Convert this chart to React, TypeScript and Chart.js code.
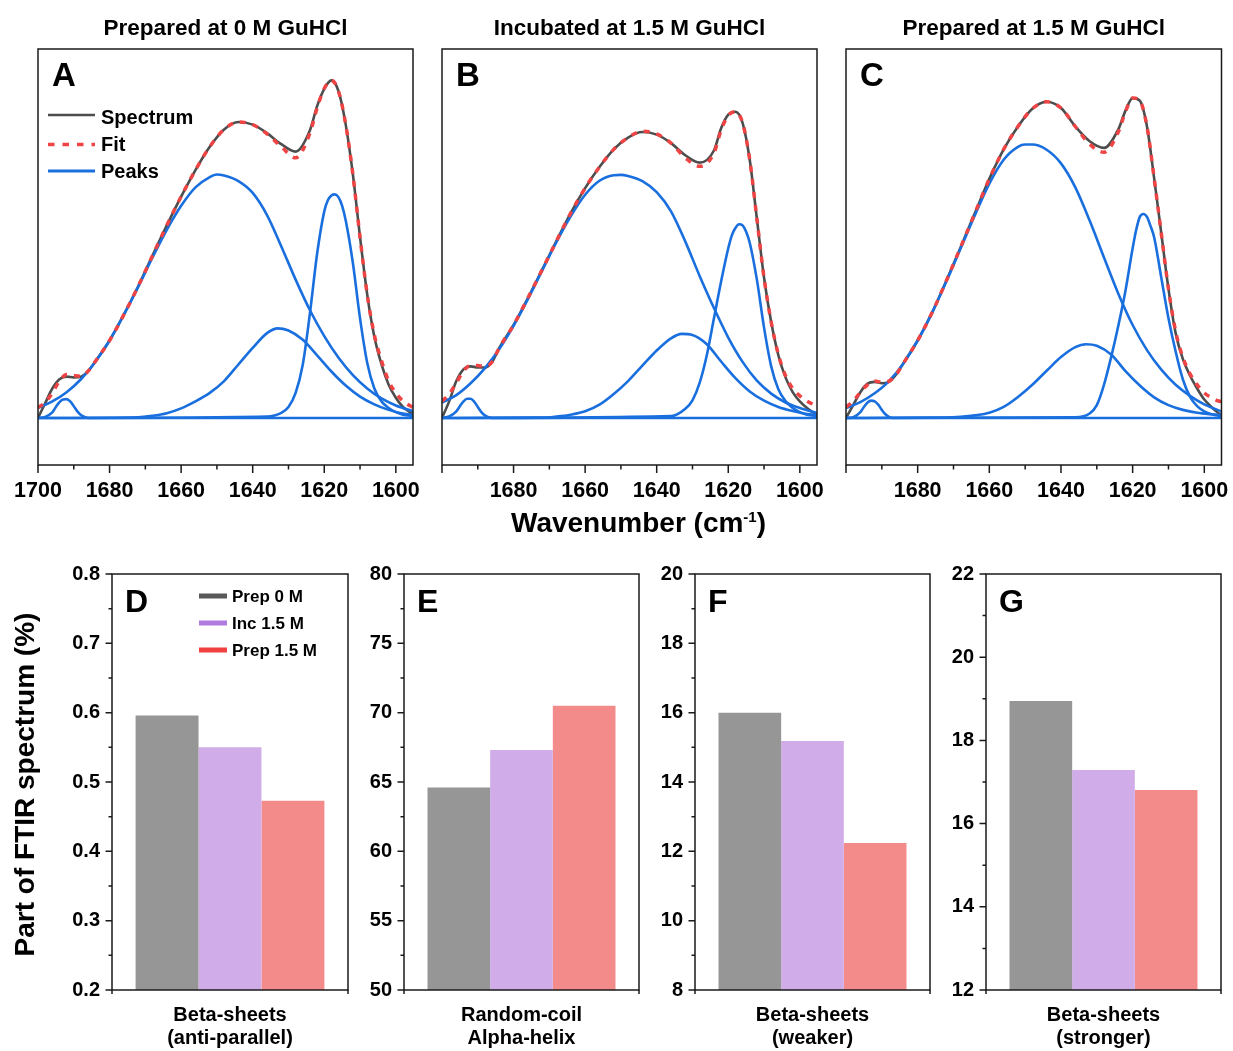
import React, { useEffect, useRef } from 'react';
import { Chart, registerables } from 'chart.js';

Chart.register(...registerables);

const FONT = "'Liberation Sans', Arial, Helvetica, sans-serif";

// ---------------- Top panels (FTIR spectra) ----------------
const TOP_TITLES = ['Prepared at 0 M GuHCl', 'Incubated at 1.5 M GuHCl', 'Prepared at 1.5 M GuHCl'];
const TOP_LETTERS = ['A', 'B', 'C'];
const LEGEND_TOP = ['Spectrum', 'Fit', 'Peaks'];
const X_TICKS = [1700, 1680, 1660, 1640, 1620, 1600];
const X_MINOR = [1690, 1670, 1650, 1630, 1610];

const SPEC_X = [1700, 1698, 1696, 1694, 1692, 1690, 1688, 1686, 1684, 1680, 1676, 1672, 1668, 1664, 1660, 1656, 1652, 1648, 1644, 1640, 1636, 1632, 1628, 1624, 1622, 1620, 1618, 1616, 1614, 1612, 1610, 1608, 1606, 1604, 1602, 1600, 1598, 1596, 1595];
const SPEC_A = [0, 0.04, 0.08, 0.105, 0.112, 0.11, 0.112, 0.127, 0.153, 0.21, 0.28, 0.357, 0.44, 0.522, 0.6, 0.672, 0.735, 0.782, 0.802, 0.795, 0.772, 0.742, 0.722, 0.78, 0.845, 0.892, 0.915, 0.885, 0.795, 0.66, 0.49, 0.335, 0.22, 0.145, 0.09, 0.055, 0.03, 0.015, 0.01];
const FIT_A = [0.028, 0.042, 0.068, 0.1, 0.118, 0.115, 0.113, 0.127, 0.153, 0.21, 0.28, 0.357, 0.44, 0.522, 0.6, 0.672, 0.735, 0.782, 0.802, 0.795, 0.77, 0.735, 0.705, 0.772, 0.84, 0.893, 0.915, 0.885, 0.795, 0.66, 0.49, 0.335, 0.225, 0.155, 0.1, 0.068, 0.046, 0.033, 0.028];
const SPEC_B = [0, 0.045, 0.1, 0.132, 0.14, 0.137, 0.137, 0.152, 0.19, 0.252, 0.325, 0.402, 0.48, 0.556, 0.623, 0.68, 0.728, 0.76, 0.775, 0.768, 0.745, 0.712, 0.692, 0.725, 0.785, 0.822, 0.83, 0.8, 0.7, 0.54, 0.38, 0.26, 0.17, 0.11, 0.07, 0.045, 0.027, 0.013, 0.008];
const FIT_B = [0.045, 0.065, 0.095, 0.127, 0.143, 0.142, 0.14, 0.152, 0.19, 0.252, 0.325, 0.402, 0.48, 0.556, 0.623, 0.68, 0.728, 0.76, 0.777, 0.77, 0.745, 0.705, 0.682, 0.718, 0.78, 0.82, 0.83, 0.8, 0.7, 0.54, 0.38, 0.26, 0.172, 0.115, 0.08, 0.06, 0.046, 0.036, 0.032];
const SPEC_C = [0, 0.035, 0.07, 0.093, 0.098, 0.094, 0.098, 0.118, 0.148, 0.21, 0.285, 0.372, 0.463, 0.556, 0.648, 0.728, 0.79, 0.838, 0.857, 0.84, 0.79, 0.75, 0.732, 0.782, 0.833, 0.867, 0.86, 0.79, 0.65, 0.5, 0.35, 0.23, 0.16, 0.115, 0.08, 0.05, 0.03, 0.013, 0.008];
const FIT_C = [0.03, 0.045, 0.07, 0.09, 0.1, 0.097, 0.1, 0.118, 0.148, 0.21, 0.285, 0.372, 0.463, 0.556, 0.648, 0.728, 0.79, 0.838, 0.857, 0.84, 0.79, 0.742, 0.72, 0.775, 0.83, 0.867, 0.86, 0.79, 0.65, 0.5, 0.35, 0.235, 0.165, 0.12, 0.09, 0.068, 0.055, 0.046, 0.044];

const SMALL_X = [1700, 1698, 1696, 1695, 1694, 1693, 1692, 1691, 1690, 1689, 1688, 1687, 1686, 1595];
const SMALL_A = [0, 0.003, 0.015, 0.03, 0.043, 0.05, 0.051, 0.045, 0.032, 0.018, 0.008, 0.003, 0, 0];
const SMALL_B = [0, 0.004, 0.018, 0.032, 0.045, 0.052, 0.052, 0.044, 0.03, 0.016, 0.007, 0.002, 0, 0];
const SMALL_C = [0, 0.002, 0.016, 0.03, 0.042, 0.047, 0.045, 0.036, 0.022, 0.01, 0.003, 0, 0, 0];

const BROAD_X = [1700, 1696, 1692, 1688, 1684, 1680, 1676, 1672, 1668, 1664, 1660, 1656, 1652, 1650, 1648, 1644, 1640, 1636, 1632, 1628, 1624, 1620, 1616, 1612, 1608, 1604, 1600, 1595];
const BROAD_A = [0.027, 0.045, 0.07, 0.105, 0.152, 0.21, 0.28, 0.355, 0.435, 0.51, 0.575, 0.625, 0.653, 0.66, 0.657, 0.642, 0.61, 0.55, 0.465, 0.375, 0.292, 0.222, 0.163, 0.116, 0.08, 0.053, 0.034, 0.018];
const BROAD_B = [0.042, 0.062, 0.094, 0.135, 0.187, 0.25, 0.322, 0.4, 0.477, 0.547, 0.605, 0.643, 0.658, 0.659, 0.656, 0.642, 0.612, 0.56, 0.478, 0.385, 0.298, 0.218, 0.152, 0.101, 0.066, 0.042, 0.027, 0.013];
const BROAD_C = [0.027, 0.043, 0.067, 0.1, 0.148, 0.21, 0.285, 0.37, 0.46, 0.55, 0.635, 0.7, 0.735, 0.741, 0.741, 0.727, 0.69, 0.625, 0.535, 0.435, 0.337, 0.252, 0.184, 0.131, 0.09, 0.06, 0.037, 0.017];

const MED_X = [1700, 1672, 1668, 1664, 1660, 1656, 1652, 1648, 1644, 1640, 1636, 1633, 1630, 1626, 1622, 1618, 1614, 1610, 1606, 1602, 1598, 1595];
const MED_A = [0, 0.002, 0.006, 0.013, 0.026, 0.045, 0.068, 0.1, 0.145, 0.19, 0.23, 0.243, 0.237, 0.212, 0.17, 0.126, 0.088, 0.058, 0.037, 0.022, 0.012, 0.008];
const MED_B = [0, 0.001, 0.004, 0.009, 0.018, 0.036, 0.065, 0.1, 0.142, 0.183, 0.216, 0.228, 0.225, 0.2, 0.153, 0.108, 0.072, 0.047, 0.03, 0.019, 0.011, 0.008];
const MED_C = [0, 0.001, 0.003, 0.007, 0.014, 0.03, 0.057, 0.09, 0.128, 0.165, 0.192, 0.2, 0.196, 0.172, 0.127, 0.088, 0.056, 0.035, 0.022, 0.014, 0.01, 0.008];

const SHARP_X = [1700, 1636, 1632, 1630, 1628, 1626, 1624, 1622, 1620, 1619, 1618, 1617, 1616, 1615, 1614, 1612, 1610, 1608, 1606, 1604, 1602, 1600, 1598, 1595];
const SHARP_A = [0, 0.004, 0.014, 0.03, 0.068, 0.145, 0.284, 0.445, 0.56, 0.59, 0.603, 0.606, 0.598, 0.575, 0.535, 0.42, 0.27, 0.15, 0.08, 0.045, 0.027, 0.016, 0.009, 0.005];
const SHARP_B = [0, 0.005, 0.025, 0.048, 0.095, 0.17, 0.27, 0.37, 0.46, 0.495, 0.515, 0.525, 0.522, 0.505, 0.475, 0.375, 0.245, 0.14, 0.078, 0.046, 0.027, 0.016, 0.009, 0.005];
const SHARP_C = [0, 0.002, 0.012, 0.035, 0.09, 0.165, 0.25, 0.345, 0.46, 0.51, 0.545, 0.553, 0.545, 0.52, 0.49, 0.38, 0.27, 0.18, 0.105, 0.058, 0.032, 0.018, 0.01, 0.005];

const SPECTRA = [SPEC_A, SPEC_B, SPEC_C];
const FITS = [FIT_A, FIT_B, FIT_C];
const SMALLS = [SMALL_A, SMALL_B, SMALL_C];
const BROADS = [BROAD_A, BROAD_B, BROAD_C];
const MEDS = [MED_A, MED_B, MED_C];
const SHARPS = [SHARP_A, SHARP_B, SHARP_C];

const SPEC_COLOR = '#4d4d4d';
const FIT_COLOR = '#f04343';
const PEAK_COLOR = '#1a6fdf';

// ---------------- Bottom panels (bar charts) ----------------
const BAR_LETTERS = ['D', 'E', 'F', 'G'];
const BAR_CATEGORIES = [
  ['Beta-sheets', '(anti-parallel)'],
  ['Random-coil', 'Alpha-helix'],
  ['Beta-sheets', '(weaker)'],
  ['Beta-sheets', '(stronger)'],
];
const SERIES_NAMES = ['Prep 0 M', 'Inc 1.5 M', 'Prep 1.5 M'];
const PREP_0M = [0.596, 64.6, 16.0, 18.95];
const INC_15M = [0.55, 67.3, 15.18, 17.29];
const PREP_15M = [0.473, 70.5, 12.24, 16.81];
const BAR_Y_MIN = [0.2, 50, 8, 12];
const BAR_Y_MAX = [0.8, 80, 20, 22];
const BAR_Y_STEP = [0.1, 5, 2, 2];
const BAR_DECIMALS = [1, 0, 0, 0];
const BAR_FILLS = ['#969696', '#d0ade9', '#f48b8b'];
const LEGEND_SWATCHES = ['#595959', '#b07be0', '#f04040'];
const BAR_SERIES = [PREP_0M, INC_15M, PREP_15M];

// ---------------- Layout ----------------
type Rect = { left: number; top: number; width: number; height: number };
const TOP_RECTS: Rect[] = [
  { left: 0, top: 0, width: 428, height: 550 },
  { left: 428, top: 0, width: 404, height: 550 },
  { left: 832, top: 0, width: 401, height: 550 },
];
const TOP_PADS = [
  { left: 38, top: 49, right: 15, bottom: 40 },
  { left: 14, top: 49, right: 15, bottom: 40 },
  { left: 14, top: 49, right: 11.5, bottom: 40 },
];
const BAR_RECTS: Rect[] = [
  { left: 0, top: 560, width: 360, height: 491 },
  { left: 360, top: 560, width: 290, height: 491 },
  { left: 650, top: 560, width: 290, height: 491 },
  { left: 940, top: 560, width: 293, height: 491 },
];
const BAR_YAXIS_W = [60, 40, 40, 40];
const BAR_PADS = [
  { left: 52, top: 14, right: 12, bottom: 0 },
  { left: 4, top: 14, right: 11, bottom: 0 },
  { left: 5, top: 14, right: 10, bottom: 0 },
  { left: 6, top: 14, right: 12, bottom: 0 },
];

function pts(xs: number[], ys: number[]) {
  return xs.map((x, i) => ({ x, y: ys[i] }));
}

function lineDs(label: string, data: any[], color: string, width: number, dash: number[], order: number) {
  return {
    type: 'line',
    label,
    data,
    borderColor: color,
    borderWidth: width,
    borderDash: dash,
    pointRadius: 0,
    fill: false,
    cubicInterpolationMode: 'monotone',
    order,
  };
}

function topDecor(idx: number) {
  return {
    id: 'topDecor' + idx,
    afterDraw(chart: any) {
      const { ctx, chartArea: a, scales } = chart;
      const x = scales.x;
      ctx.save();
      ctx.strokeStyle = '#1a1a1a';
      ctx.lineWidth = 1.5;
      ctx.setLineDash([]);
      ctx.strokeRect(a.left, a.top, a.right - a.left, a.bottom - a.top);
      ctx.beginPath();
      for (const v of X_TICKS) {
        const p = x.getPixelForValue(v);
        ctx.moveTo(p, a.bottom);
        ctx.lineTo(p, a.bottom + 8);
      }
      for (const v of X_MINOR) {
        const p = x.getPixelForValue(v);
        ctx.moveTo(p, a.bottom);
        ctx.lineTo(p, a.bottom + 4.5);
      }
      ctx.stroke();

      ctx.fillStyle = '#000';
      ctx.textAlign = 'left';
      ctx.textBaseline = 'alphabetic';
      ctx.font = `bold 33px ${FONT}`;
      ctx.fillText(TOP_LETTERS[idx], a.left + 14, a.top + 37);

      ctx.textAlign = 'center';
      ctx.font = `bold 22.5px ${FONT}`;
      ctx.fillText(TOP_TITLES[idx], (a.left + a.right) / 2, 34.5);

      if (idx === 0) {
        const rows = [
          { y: 115, ty: 118.5, color: SPEC_COLOR, w: 2.6, dash: [] as number[] },
          { y: 144.5, ty: 145.5, color: FIT_COLOR, w: 3.5, dash: [6.5, 8] },
          { y: 171, ty: 172, color: PEAK_COLOR, w: 3, dash: [] as number[] },
        ];
        rows.forEach((r, i) => {
          ctx.beginPath();
          ctx.strokeStyle = r.color;
          ctx.lineWidth = r.w;
          ctx.setLineDash(r.dash);
          ctx.moveTo(48, r.y);
          ctx.lineTo(95, r.y);
          ctx.stroke();
          ctx.setLineDash([]);
          ctx.fillStyle = '#000';
          ctx.textAlign = 'left';
          ctx.textBaseline = 'middle';
          ctx.font = `bold 20px ${FONT}`;
          ctx.fillText(LEGEND_TOP[i], 101, r.ty);
        });
      }

      if (idx === 1) {
        const main1 = 'Wavenumber (cm';
        const sup = '-1';
        const main2 = ')';
        ctx.textBaseline = 'alphabetic';
        ctx.textAlign = 'left';
        ctx.font = `bold 28px ${FONT}`;
        const w1 = ctx.measureText(main1).width;
        const w3 = ctx.measureText(main2).width;
        ctx.font = `bold 15px ${FONT}`;
        const w2 = ctx.measureText(sup).width;
        const pageCx = 638.5 - TOP_RECTS[1].left;
        const start = pageCx - (w1 + w2 + w3) / 2;
        ctx.fillStyle = '#000';
        ctx.font = `bold 28px ${FONT}`;
        ctx.fillText(main1, start, 532);
        ctx.font = `bold 15px ${FONT}`;
        ctx.fillText(sup, start + w1, 522);
        ctx.font = `bold 28px ${FONT}`;
        ctx.fillText(main2, start + w1 + w2, 532);
      }
      ctx.restore();
    },
  };
}

function makeTopConfig(idx: number) {
  const datasets = [
    lineDs('Fit', pts(SPEC_X, FITS[idx]), FIT_COLOR, 3.5, [6, 7], 0),
    lineDs('Peak 1', pts(SMALL_X, SMALLS[idx]), PEAK_COLOR, 2.6, [], 1),
    lineDs('Peak 2', pts(BROAD_X, BROADS[idx]), PEAK_COLOR, 2.6, [], 1),
    lineDs('Peak 3', pts(MED_X, MEDS[idx]), PEAK_COLOR, 2.6, [], 1),
    lineDs('Peak 4', pts(SHARP_X, SHARPS[idx]), PEAK_COLOR, 2.6, [], 1),
    lineDs('Spectrum', pts(SPEC_X, SPECTRA[idx]), SPEC_COLOR, 2.6, [], 2),
  ];
  return {
    type: 'line',
    data: { datasets },
    options: {
      responsive: false,
      maintainAspectRatio: false,
      animation: false,
      devicePixelRatio: 1,
      events: [],
      layout: { padding: TOP_PADS[idx] },
      plugins: { legend: { display: false }, tooltip: { enabled: false }, title: { display: false } },
      scales: {
        x: {
          type: 'linear',
          min: 1595.2,
          max: 1700,
          reverse: true,
          afterBuildTicks: (s: any) => {
            s.ticks = X_TICKS.map((v) => ({ value: v }));
          },
          afterFit: (s: any) => {
            s.height = 45;
            s.paddingLeft = 0;
            s.paddingRight = 0;
          },
          grid: { display: false, drawTicks: false },
          border: { display: false },
          ticks: {
            autoSkip: false,
            maxRotation: 0,
            minRotation: 0,
            padding: 13,
            color: '#000',
            font: { family: FONT, size: 21.5, weight: 'bold' },
            callback: (v: any) => (idx > 0 && Number(v) === 1700 ? '' : String(v)),
          },
        },
        y: { display: false, min: -0.1274, max: 1.0 },
      },
    },
    plugins: [topDecor(idx)],
  };
}

function barDecor(idx: number) {
  return {
    id: 'barDecor' + idx,
    afterDraw(chart: any) {
      const { ctx, chartArea: a, scales } = chart;
      const y = scales.y;
      ctx.save();
      ctx.strokeStyle = '#1a1a1a';
      ctx.lineWidth = 1.5;
      ctx.strokeRect(a.left, a.top, a.right - a.left, a.bottom - a.top);
      ctx.beginPath();
      const n = Math.round((BAR_Y_MAX[idx] - BAR_Y_MIN[idx]) / (BAR_Y_STEP[idx] / 2));
      for (let k = 0; k <= n; k++) {
        const v = BAR_Y_MIN[idx] + (k * BAR_Y_STEP[idx]) / 2;
        const p = y.getPixelForValue(v);
        ctx.moveTo(a.left, p);
        ctx.lineTo(a.left - (k % 2 === 0 ? 6.5 : 3.5), p);
      }
      ctx.moveTo(a.left, a.bottom);
      ctx.lineTo(a.left, a.bottom + 4);
      ctx.moveTo(a.right, a.bottom);
      ctx.lineTo(a.right, a.bottom + 4);
      ctx.stroke();

      ctx.fillStyle = '#000';
      ctx.textAlign = 'left';
      ctx.textBaseline = 'alphabetic';
      ctx.font = `bold 32px ${FONT}`;
      ctx.fillText(BAR_LETTERS[idx], a.left + 13, a.top + 38);

      if (idx === 0) {
        const top = BAR_RECTS[0].top;
        const rows = [596, 623, 650];
        rows.forEach((ry, i) => {
          ctx.fillStyle = LEGEND_SWATCHES[i];
          ctx.fillRect(199, ry - 2.5 - top, 28, 5);
          ctx.fillStyle = '#000';
          ctx.textBaseline = 'middle';
          ctx.font = `bold 17px ${FONT}`;
          ctx.fillText(SERIES_NAMES[i], 232, ry + 1 - top);
        });
        ctx.save();
        ctx.translate(33.5, 784.5 - top);
        ctx.rotate(-Math.PI / 2);
        ctx.textAlign = 'center';
        ctx.textBaseline = 'alphabetic';
        ctx.font = `bold 28px ${FONT}`;
        ctx.fillStyle = '#000';
        ctx.fillText('Part of FTIR spectrum (%)', 0, 0);
        ctx.restore();
      }
      ctx.restore();
    },
  };
}

function makeBarConfig(idx: number) {
  const majors: number[] = [];
  const nMaj = Math.round((BAR_Y_MAX[idx] - BAR_Y_MIN[idx]) / BAR_Y_STEP[idx]);
  for (let k = 0; k <= nMaj; k++) majors.push(BAR_Y_MIN[idx] + k * BAR_Y_STEP[idx]);
  return {
    type: 'bar',
    data: {
      labels: [BAR_CATEGORIES[idx]],
      datasets: SERIES_NAMES.map((name, k) => ({
        label: name,
        data: [BAR_SERIES[k][idx]],
        backgroundColor: BAR_FILLS[k],
        borderWidth: 0,
        barPercentage: 1,
        categoryPercentage: 0.8,
      })),
    },
    options: {
      responsive: false,
      maintainAspectRatio: false,
      animation: false,
      devicePixelRatio: 1,
      events: [],
      layout: { padding: BAR_PADS[idx] },
      plugins: { legend: { display: false }, tooltip: { enabled: false }, title: { display: false } },
      scales: {
        x: {
          type: 'category',
          grid: { display: false, drawTicks: false },
          border: { display: false },
          afterFit: (s: any) => {
            s.height = 61;
            s.paddingLeft = 0;
            s.paddingRight = 0;
          },
          ticks: {
            autoSkip: false,
            maxRotation: 0,
            minRotation: 0,
            padding: 13.5,
            color: '#000',
            font: { family: FONT, size: 20, weight: 'bold', lineHeight: 1.15 },
          },
        },
        y: {
          type: 'linear',
          min: BAR_Y_MIN[idx],
          max: BAR_Y_MAX[idx],
          afterBuildTicks: (s: any) => {
            s.ticks = majors.map((v) => ({ value: v }));
          },
          afterFit: (s: any) => {
            s.width = BAR_YAXIS_W[idx];
            s.paddingTop = 0;
            s.paddingBottom = 0;
          },
          grid: { display: false, drawTicks: false },
          border: { display: false },
          ticks: {
            padding: 12,
            color: '#000',
            font: { family: FONT, size: 20, weight: 'bold' },
            callback: (v: any) => Number(v).toFixed(BAR_DECIMALS[idx]),
          },
        },
      },
    },
    plugins: [barDecor(idx)],
  };
}

function ChartCanvas({ rect, make }: { rect: Rect; make: () => any }) {
  const ref = useRef<HTMLCanvasElement | null>(null);
  useEffect(() => {
    if (!ref.current) return;
    const chart = new Chart(ref.current, make());
    return () => chart.destroy();
  }, []);
  return (
    <canvas
      ref={ref}
      width={rect.width}
      height={rect.height}
      style={{ position: 'absolute', left: rect.left, top: rect.top, width: rect.width, height: rect.height }}
    />
  );
}

export default function App() {
  return (
    <div style={{ position: 'absolute', left: 0, top: 0, width: 1233, height: 1051, background: '#fff' }}>
      {TOP_RECTS.map((r, i) => (
        <ChartCanvas key={'t' + i} rect={r} make={() => makeTopConfig(i)} />
      ))}
      {BAR_RECTS.map((r, i) => (
        <ChartCanvas key={'b' + i} rect={r} make={() => makeBarConfig(i)} />
      ))}
    </div>
  );
}
